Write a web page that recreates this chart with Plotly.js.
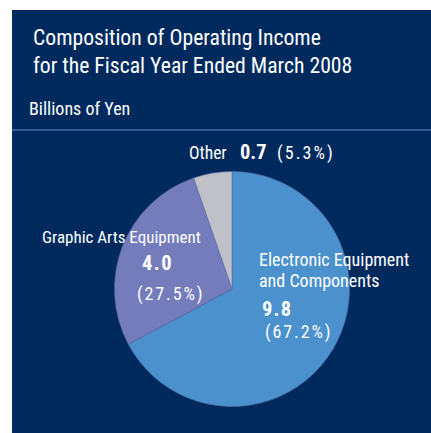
<!DOCTYPE html>
<html>
<head>
<meta charset="utf-8">
<script src="https://cdn.plot.ly/plotly-3.0.1.min.js"></script>
<style>html,body{margin:0;padding:0;background:#002a5e;overflow:hidden;}#chart{width:431px;height:433px;}</style>
</head>
<body>
<div id="chart"></div>
<script>
var categories = ["Electronic Equipment<br>and Components", "Graphic Arts Equipment", "Other"];
var values = [9.8, 4.0, 0.7];
var shares = [67.2, 27.5, 5.3];
var sliceColors = ["#4a91cd", "#747cbc", "#c0c0c8"];
var titleLines = ["Composition of Operating Income", "for the Fiscal Year Ended March 2008"];
var unitLabel = "Billions of Yen";

var W = 431, H = 433;
var NAVY = "#002a5e";
var FONT = "'Liberation Sans Narrow', 'Roboto Condensed', 'DejaVu Sans Condensed', sans-serif";
function px(x) { return x / W; }
function py(y) { return 1 - y / H; }

var trace = {
  type: "pie",
  labels: categories,
  values: shares,
  sort: false,
  direction: "clockwise",
  rotation: 0,
  textinfo: "none",
  hoverinfo: "none",
  marker: { colors: sliceColors, line: { color: "#5a6aa8", width: 0.6 } },
  domain: { x: [px(114.5), px(349.5)], y: [py(406.5), py(171.5)] },
  showlegend: false
};

function ann(text, x, y, size, bold, spacing) {
  var t = bold ? "<b>" + text + "</b>" : text;
  if (spacing) t = '<span style="letter-spacing:' + spacing + 'px">' + t + '</span>';
  return {
    xref: "paper", yref: "paper", x: px(x), y: py(y),
    xanchor: "left", yanchor: "middle", showarrow: false,
    text: t,
    font: { family: FONT, size: size, color: "#ffffff" }
  };
}
function pct(v) { return "(" + v.toFixed(1) + "%)"; }

var annotations = [
  ann(titleLines[0], 31, 38, 21.7, false, 0),
  ann(titleLines[1], 31, 66, 21.7, false, 0),
  ann(unitLabel, 27, 108, 18, false, 0),
  // Other
  ann(categories[2], 187, 153, 17.5, false, 0),
  ann(values[2].toFixed(1), 238, 152, 20.5, true, 0),
  ann(pct(shares[2]), 275, 153, 18, false, 2.1),
  // Graphic Arts
  ann(categories[1], 40, 237, 17, false, 0),
  ann(values[1].toFixed(1), 140, 263, 20.5, true, 1.5),
  ann(pct(shares[1]), 135, 294, 18, false, 1.9),
  // Electronic
  ann("Electronic Equipment", 257, 259, 18, false, 0),
  ann("and Components", 257, 280, 18, false, 0),
  ann(values[0].toFixed(1), 260, 309, 20.5, true, 1.2),
  ann(pct(shares[0]), 263, 332, 18, false, 1.9)
];

var layout = {
  width: W, height: H,
  margin: { l: 0, r: 0, t: 0, b: 0 },
  paper_bgcolor: NAVY,
  plot_bgcolor: NAVY,
  shapes: [
    { type: "rect", xref: "paper", yref: "paper", x0: 0, x1: px(12), y0: 0, y1: 1,
      fillcolor: "#ffffff", line: { width: 0 }, layer: "below" },
    { type: "rect", xref: "paper", yref: "paper", x0: 0, x1: 1, y0: py(10), y1: 1,
      fillcolor: "#ffffff", line: { width: 0 }, layer: "below" },
    { type: "line", xref: "paper", yref: "paper", x0: px(12), x1: 1, y0: py(130), y1: py(130),
      line: { color: "#6a8cc4", width: 1 } }
  ],
  annotations: annotations
};

Plotly.newPlot("chart", [trace], layout, { displayModeBar: false, staticPlot: true });
</script>
</body>
</html>
